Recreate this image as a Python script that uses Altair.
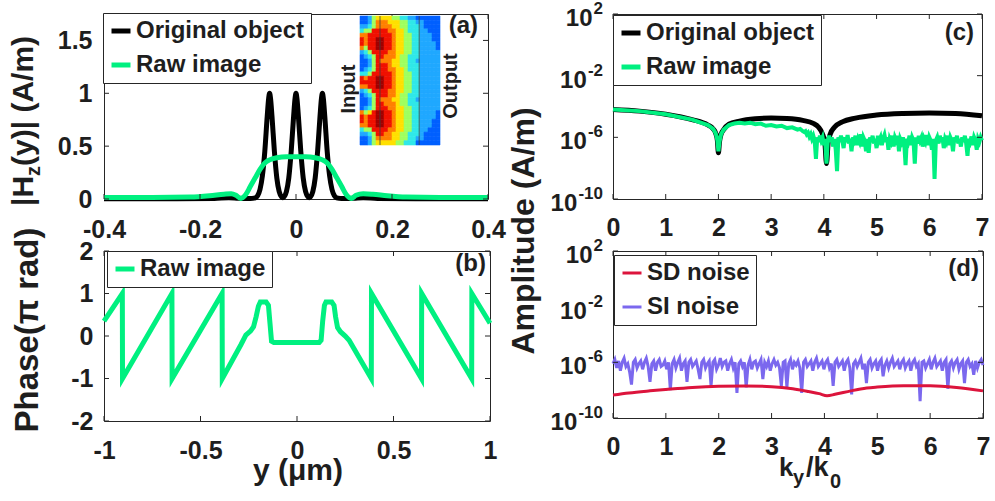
import altair as alt
import pandas as pd

FONT = "Liberation Sans"
TXT = "#1e1e1e"
FRAME = "#262626"
GREEN = "#00F080"
RED = "#DC143C"
BLUE = "#7B68EE"
BLACK = "#000000"

# ---------------- data ----------------
a_series = ["Original object", "Raw image"]
a_black_x = [-0.4, -0.25, -0.17, -0.14, -0.12, -0.1, -0.09, -0.085, -0.08, -0.075,
             -0.07, -0.065, -0.06, -0.057, -0.055, -0.053, -0.05, -0.045, -0.04, -0.035,
             -0.03, -0.0275, -0.025, -0.02, -0.015, -0.01, -0.005, -0.002, 0.0, 0.002,
             0.005, 0.01, 0.015, 0.02, 0.025, 0.0275, 0.03, 0.035, 0.04, 0.045,
             0.05, 0.053, 0.055, 0.057, 0.06, 0.065, 0.07, 0.075, 0.08, 0.085,
             0.09, 0.1, 0.12, 0.14, 0.17, 0.25, 0.4]
a_black_y = [0.003, 0.003, 0.005, 0.012, 0.006, 0.004, 0.006, 0.01, 0.03, 0.09,
             0.22, 0.45, 0.78, 0.95, 1.0, 0.95, 0.78, 0.45, 0.2, 0.07,
             0.02, 0.012, 0.02, 0.07, 0.2, 0.45, 0.78, 0.95, 1.0, 0.95,
             0.78, 0.45, 0.2, 0.07, 0.02, 0.012, 0.02, 0.07, 0.2, 0.45,
             0.78, 0.95, 1.0, 0.95, 0.78, 0.45, 0.22, 0.09, 0.03, 0.01,
             0.006, 0.004, 0.006, 0.012, 0.005, 0.003, 0.003]
a_green_x = [-0.4, -0.3, -0.22, -0.18, -0.15, -0.135, -0.125, -0.115, -0.105, -0.095,
             -0.085, -0.075, -0.065, -0.055, -0.04, -0.02, 0.0, 0.02, 0.04, 0.055,
             0.065, 0.075, 0.085, 0.095, 0.105, 0.115, 0.125, 0.14, 0.16, 0.19,
             0.23, 0.3, 0.4]
a_green_y = [0.015, 0.015, 0.018, 0.03, 0.045, 0.05, 0.035, 0.005, 0.04, 0.12,
             0.2, 0.28, 0.34, 0.37, 0.39, 0.4, 0.4, 0.4, 0.39, 0.37,
             0.34, 0.28, 0.2, 0.12, 0.04, 0.005, 0.035, 0.05, 0.045, 0.03,
             0.018, 0.015, 0.015]
a_xticks = [-0.4, -0.2, 0, 0.2, 0.4]
a_yticks = [0, 0.5, 1, 1.5]

# inset field map (jet levels 0..9), rows top->bottom, columns left->right
inset_rows = [
    "22356666554433222222",
    "22357776665544332222",
    "33457777665544432222",
    "45588887766544433222",
    "77888888766554433322",
    "87889988766554433322",
    "87889988766554433332",
    "75889988766554433332",
    "34588887766554433333",
    "23458877765544433333",
    "22358777665544333333",
    "22358887665544433333",
    "23458887766544433333",
    "44588888766554433333",
    "87889988766554433333",
    "88889988766554433333",
    "77889988766554433333",
    "34588887766554433333",
    "23458887765544433333",
    "22358777665544333333",
    "22358877765544433333",
    "23458887766554433333",
    "75689988766554433332",
    "87889988766554433332",
    "87889988766554433322",
    "77889988766554433322",
    "45588887766554433222",
    "33458877665544432222",
    "22357777665544332222",
    "22356666655444222222",
]
inset_lines_u = [0.25, 0.74]
jet_levels = list("0123456789")
jet_colors = ["#000090", "#0000F0", "#0060FF", "#20A8FF", "#30E8E8",
              "#A0FF60", "#FFE000", "#FF8000", "#F01000", "#A00000"]

b_series = ["Raw image"]
b_x = [-1.0, -0.905, -0.904, -0.648, -0.647, -0.388, -0.387,
       -0.29, -0.265, -0.24, -0.225, -0.212, -0.2, -0.19, -0.16, -0.148, -0.14,
       -0.132, -0.12, 0.115, 0.125, 0.133, 0.142, 0.15, 0.18, 0.192, 0.2,
       0.21, 0.225, 0.25, 0.27, 0.385, 0.386, 0.645, 0.646, 0.905, 0.906, 1.0]
b_y = [0.35, 1.0, -1.0, 1.0, -1.0, 1.0, -1.0,
       -0.2, 0.02, 0.12, 0.22, 0.45, 0.7, 0.8, 0.8, 0.72, 0.3,
       -0.12, -0.15, -0.15, -0.1, 0.35, 0.72, 0.8, 0.8, 0.72, 0.45,
       0.2, 0.1, 0.0, -0.1, -1.0, 1.0, -1.0, 1.0, -1.0, 1.0, 0.3]
b_xticks = [-1, -0.5, 0, 0.5, 1]
b_yticks = [-2, -1, 0, 1, 2]

c_series = ["Original object", "Raw image"]
c_black_x = [0, 0.5, 1.0, 1.5, 1.8, 1.9, 1.95, 1.98, 2.0, 2.02, 2.05, 2.1, 2.2, 2.4,
             2.7, 3.0, 3.3, 3.6, 3.8, 3.9, 3.97, 4.02, 4.05, 4.08, 4.12, 4.2, 4.35,
             4.6, 5.0, 5.5, 6.0, 6.5, 7.0]
c_black_log10 = [-4.2, -4.3, -4.5, -4.85, -5.2, -5.45, -5.75, -6.2, -7.0, -6.3, -5.8, -5.5,
                 -5.15, -4.95, -4.8, -4.75, -4.78, -4.9, -5.1, -5.35, -5.75, -6.4, -7.7,
                 -6.4, -5.8, -5.35, -5.0, -4.75, -4.55, -4.45, -4.42, -4.45, -4.6]
c_green_x_smooth = [0, 0.5, 1.0, 1.5, 1.8, 1.9, 1.95, 1.98, 2.0, 2.02, 2.05, 2.1, 2.2,
                    2.3, 2.4, 2.5, 2.6, 2.7, 2.8, 2.9, 3.0, 3.1, 3.2, 3.3, 3.4, 3.5,
                    3.55, 3.6]
c_green_log10_smooth = [-4.2, -4.3, -4.5, -4.85, -5.2, -5.45, -5.75, -6.2, -6.9, -6.3,
                        -5.8, -5.5, -5.2, -5.1, -5.05, -5.1, -5.05, -5.15, -5.1, -5.25,
                        -5.2, -5.3, -5.25, -5.4, -5.35, -5.5, -5.45, -5.6]
c_green_noise_start, c_green_noise_step = 3.625, 0.025
c_green_log10_noise = [
    -5.65, -5.6, -5.8, -5.7, -5.95, -5.8, -6.1, -5.9, -6.2, -7.4,
    -6.0, -6.3, -5.9, -6.2, -6.0, -6.5, -6.1, -7.7, -6.2, -5.9,
    -6.3, -6.0, -6.6, -6.1, -6.8, -8.2, -6.0, -6.3, -5.9, -6.2,
    -6.7, -6.0, -6.3, -5.85, -6.4, -6.1, -6.9, -6.0, -6.2, -5.9,
    -6.5, -6.1, -6.3, -5.8, -6.6, -6.0, -6.2, -6.9, -6.1, -7.0,
    -6.0, -6.3, -5.9, -6.4, -6.1, -6.7, -5.9, -6.2, -6.0, -6.5,
    -6.1, -5.85, -6.3, -6.0, -6.8, -6.1, -6.3, -5.9, -6.6, -6.0,
    -6.2, -5.9, -6.9, -6.1, -6.3, -6.0, -6.4, -7.8, -6.1, -6.3,
    -5.9, -6.5, -6.0, -6.2, -7.7, -6.0, -6.4, -5.9, -6.2, -6.0,
    -6.6, -6.1, -6.3, -5.85, -6.5, -6.0, -6.2, -6.8, -6.1, -8.7,
    -6.2, -6.0, -6.4, -5.9, -6.3, -6.0, -6.7, -6.1, -6.3, -5.9,
    -6.5, -6.0, -6.2, -6.9, -6.0, -6.3, -5.9, -6.4, -6.1, -6.6,
    -6.0, -6.3, -5.9, -6.4, -7.2, -6.1, -6.3, -5.95, -6.5, -6.0,
    -6.2, -6.8, -6.1, -6.3, -6.0, -6.2]

d_series = ["SD noise", "SI noise"]
d_red_x = [0, 0.3, 0.7, 1.0, 1.5, 2.0, 2.5, 3.0, 3.4, 3.7, 3.9, 4.05, 4.2, 4.5, 4.8,
           5.0, 5.5, 6.0, 6.5, 7.0]
d_red_log10 = [-8.35, -8.2, -8.05, -7.95, -7.8, -7.72, -7.7, -7.75, -7.9, -8.1, -8.25,
               -8.4, -8.3, -8.05, -7.85, -7.78, -7.68, -7.68, -7.8, -8.05]
d_blue_step = 0.035
d_blue_log10 = [
    -6.1, -5.8, -6.4, -5.9, -6.6, -6.0, -5.7, -6.3, -6.1, -6.7,
    -7.6, -6.0, -5.8, -6.4, -6.1, -5.9, -6.5, -6.0, -5.7, -6.3,
    -7.4, -6.1, -5.9, -6.6, -6.0, -5.8, -6.3, -6.2, -5.9, -6.5,
    -6.0, -8.0, -6.1, -5.8, -6.4, -6.0, -5.7, -6.6, -6.1, -5.9,
    -7.4, -6.0, -5.8, -6.3, -6.1, -5.9, -6.5, -7.2, -6.0, -5.8,
    -6.4, -6.1, -5.9, -7.7, -6.0, -5.8, -6.5, -6.2, -5.7, -6.3,
    -6.0, -5.9, -6.6, -6.1, -5.8, -6.4, -6.0, -8.2, -6.1, -5.9,
    -6.3, -6.0, -7.8, -6.2, -5.8, -6.5, -6.0, -5.9, -6.4, -6.1,
    -5.8, -7.2, -6.0, -6.3, -5.9, -6.6, -6.1, -5.8, -6.2, -6.0,
    -6.4, -7.7, -6.0, -5.9, -7.8, -6.1, -5.8, -6.5, -6.0, -6.2,
    -5.9, -6.4, -8.2, -6.0, -5.8, -6.3, -6.1, -5.9, -6.6, -6.0,
    -5.7, -6.3, -6.1, -5.9, -6.5, -6.0, -5.8, -6.4, -6.1, -7.7,
    -6.0, -5.8, -6.3, -6.1, -5.9, -6.6, -6.0, -5.8, -6.4, -8.3,
    -6.1, -5.9, -6.3, -6.0, -5.7, -6.5, -6.1, -7.5, -6.0, -5.8,
    -6.4, -6.1, -5.9, -6.6, -6.0, -5.8, -7.0, -6.2, -5.9, -6.4,
    -6.0, -5.7, -6.3, -6.1, -5.9, -6.5, -6.0, -5.8, -6.4, -6.1,
    -5.9, -6.6, -6.0, -5.8, -6.3, -6.1, -8.8, -6.0, -5.9, -6.4,
    -6.1, -5.8, -6.5, -6.0, -5.7, -6.3, -6.1, -5.9, -6.6, -6.0,
    -5.8, -7.9, -6.1, -5.9, -6.4, -6.0, -5.8, -6.5, -6.1, -5.9,
    -7.5, -6.0, -5.8, -6.3, -6.1, -6.9, -5.9, -6.4, -6.0, -5.8,
    -6.2]
cd_xticks = [0, 1, 2, 3, 4, 5, 6, 7]
log_ticks = [1e2, 1e-2, 1e-6, 1e-10]
log_exps = ["2", "-2", "-6", "-10"]

# ---------------- layout constants ----------------
A_W, A_H = 384, 185
B_W, B_H = 386, 170
C_W, C_H = 369, 185
D_W, D_H = 370, 167

NEG_EXPR = ("datum.value < 0 ? '-' + format(-datum.value, '.1~f') : "
            "format(datum.value, '.1~f')")
INT_EXPR = "format(datum.value, 'd')"


def axis(values, expr, pad):
    return alt.Axis(values=values, labelExpr=expr, ticks=False, domain=False, grid=False,
                    labelPadding=pad, labelFont=FONT, labelFontSize=25,
                    labelFontWeight="bold", labelColor=TXT, title=None,
                    labelFlush=False, labelOverlap=False)


def legend(x, y, sw):
    return alt.Legend(orient="none", legendX=x, legendY=y, title=None,
                      direction="vertical", symbolType="stroke", symbolSize=361,
                      symbolStrokeWidth=sw, labelFont=FONT, labelFontSize=24,
                      labelFontWeight="bold", labelColor=TXT, labelLimit=500,
                      labelOffset=3, strokeColor=FRAME, fillColor="white",
                      padding=6, rowPadding=10, cornerRadius=0)


def txt(text, x, y, size, angle=None, align="left", baseline="alphabetic",
        weight="bold"):
    kw = dict(font=FONT, fontSize=size, fontWeight=weight, color=TXT,
              align=align, baseline=baseline)
    if angle is not None:
        kw["angle"] = angle
    return alt.Chart(pd.DataFrame({"t": [text]})).mark_text(**kw).encode(
        x=alt.value(x), y=alt.value(y), text="t:N")


def ticks(xvals, yvals, xs, ys, xax, yax, W, H, L=5):
    xdf = pd.DataFrame({"t": xvals})
    ydf = pd.DataFrame({"t": yvals})
    X = alt.X("t:Q", scale=xs, axis=xax)
    Y = alt.Y("t:Q", scale=ys, axis=yax)
    r = dict(color=FRAME, strokeWidth=1)
    return [
        alt.Chart(xdf).mark_rule(**r).encode(x=X, y=alt.value(H), y2=alt.value(H - L)),
        alt.Chart(xdf).mark_rule(**r).encode(x=X, y=alt.value(0), y2=alt.value(L)),
        alt.Chart(ydf).mark_rule(**r).encode(y=Y, x=alt.value(0), x2=alt.value(L)),
        alt.Chart(ydf).mark_rule(**r).encode(y=Y, x=alt.value(W), x2=alt.value(W - L)),
    ]


def log_labels(ys, rx=-10):
    df = pd.DataFrame({"v": log_ticks, "e": log_exps, "b": ["10"] * len(log_ticks)})
    df["px"] = [rx - 1 - sum(9.5 if ch.isdigit() else 5.7 for ch in e) for e in log_exps]
    Y = alt.Y("v:Q", scale=ys, axis=None)
    base = alt.Chart(df).mark_text(font=FONT, fontSize=24, fontWeight="bold", color=TXT,
                                   align="right", baseline="alphabetic", dy=12).encode(
        x=alt.X("px:Q", scale=None), y=Y, text="b:N")
    expo = alt.Chart(df).mark_text(font=FONT, fontSize=17, fontWeight="bold", color=TXT,
                                   align="right", baseline="alphabetic", dy=0).encode(
        x=alt.value(rx), y=Y, text="e:N")
    return [base, expo]


# ---------------- panel (a) ----------------
xa = alt.Scale(domain=[-0.4, 0.4], nice=False, zero=False)
ya = alt.Scale(domain=[0, 1.75], nice=False, zero=False)
ax_xa = axis(a_xticks, NEG_EXPR, 18)
ax_ya = axis(a_yticks, NEG_EXPR, 12)
col_a = alt.Color("s:N", scale=alt.Scale(domain=a_series, range=[BLACK, GREEN]),
                  legend=legend(-1, -1, 5))
df_ab = pd.DataFrame({"x": a_black_x, "y": a_black_y, "s": a_series[0]})
df_ag = pd.DataFrame({"x": a_green_x, "y": a_green_y, "s": a_series[1]})
enc_a = dict(x=alt.X("x:Q", scale=xa, axis=ax_xa),
             y=alt.Y("y:Q", scale=ya, axis=ax_ya),
             color=col_a)
la_b = alt.Chart(df_ab).mark_line(strokeWidth=5, interpolate="monotone").encode(**enc_a)
la_g = alt.Chart(df_ag).mark_line(strokeWidth=5, interpolate="monotone").encode(**enc_a)
marker = alt.Chart(pd.DataFrame({"m": [0]})).mark_rect(opacity=0).encode(
    x=alt.value(-103), x2=alt.value(-99), y=alt.value(-17), y2=alt.value(-13))
inner_a = alt.layer(
    la_b, la_g, *ticks(a_xticks, a_yticks, xa, ya, ax_xa, ax_ya, A_W, A_H),
    txt("|H", -71, 192, 30, angle=270),
    txt("z", -64, 162, 20, angle=270),
    txt("(y)| (A/m)", -71, 152, 30, angle=270),
    txt("(a)", A_W - 10, 19, 24, align="right"),
    txt("Input", 245, 75, 20, angle=270, align="center", baseline="middle"),
    txt("Output", 347, 72, 20, angle=270, align="center", baseline="middle"),
    marker,
)
cells = []
for r, row in enumerate(inset_rows):
    for c, ch in enumerate(row):
        cells.append({"u0": c / len(row), "u1": (c + 1) / len(row),
                      "v0": r / len(inset_rows), "v1": (r + 1) / len(inset_rows),
                      "lvl": ch})
inset_df = pd.DataFrame(cells)
ux = alt.Scale(domain=[0, 1], range=[256, 336])
vy = alt.Scale(domain=[0, 1], range=[2, 131])
jet = alt.Scale(domain=jet_levels, range=jet_colors)
inset = alt.Chart(inset_df).mark_rect(strokeWidth=0.6).encode(
    x=alt.X("u0:Q", scale=ux, axis=None), x2="u1",
    y=alt.Y("v0:Q", scale=vy, axis=None), y2="v1",
    color=alt.Color("lvl:N", scale=jet, legend=None),
    stroke=alt.Stroke("lvl:N", scale=jet, legend=None))
inset_lines = alt.Chart(pd.DataFrame({"u": inset_lines_u, "v0": [0, 0], "v1": [1, 1]})).mark_rule(
    color="#404040", strokeWidth=0.8).encode(
    x=alt.X("u:Q", scale=ux, axis=None),
    y=alt.Y("v0:Q", scale=vy, axis=None), y2="v1")
panel_a = alt.layer(inner_a, alt.layer(inset, inset_lines)).resolve_scale(
    x="independent", y="independent", color="independent", stroke="independent"
).properties(width=A_W, height=A_H)

# ---------------- panel (b) ----------------
xb = alt.Scale(domain=[-1, 1], nice=False, zero=False)
yb = alt.Scale(domain=[-2, 2], nice=False, zero=False)
ax_xb = axis(b_xticks, NEG_EXPR, 17)
ax_yb = axis(b_yticks, NEG_EXPR, 11)
df_b = pd.DataFrame({"x": b_x, "y": b_y, "s": b_series[0], "i": range(len(b_x))})
lb = alt.Chart(df_b).mark_line(strokeWidth=5).encode(
    x=alt.X("x:Q", scale=xb, axis=ax_xb),
    y=alt.Y("y:Q", scale=yb, axis=ax_yb),
    color=alt.Color("s:N", scale=alt.Scale(domain=b_series, range=[GREEN]),
                    legend=legend(3, 0, 5)),
    order="i:Q")
panel_b = alt.layer(
    lb, *ticks(b_xticks, b_yticks, xb, yb, ax_xb, ax_yb, B_W, B_H),
    txt("Phase(π rad)", -66, 79, 33, angle=270, align="center"),
    txt("y (μm)", 194, 229, 30, align="center"),
    txt("(b)", B_W - 4, 20, 24, align="right"),
).properties(width=B_W, height=B_H)

# ---------------- panel (c) ----------------
xc = alt.Scale(domain=[0, 7], nice=False, zero=False)
yc = alt.Scale(type="log", domain=[1e-10, 1e2], nice=False)
ax_xc = axis(cd_xticks, INT_EXPR, 16)
c_green_x = c_green_x_smooth + [round(c_green_noise_start + i * c_green_noise_step, 4)
                                for i in range(len(c_green_log10_noise))]
c_green_log10 = c_green_log10_smooth + c_green_log10_noise
df_cb = pd.DataFrame({"x": c_black_x, "amp": [10 ** v for v in c_black_log10],
                      "s": c_series[0]})
df_cg = pd.DataFrame({"x": c_green_x, "amp": [10 ** v for v in c_green_log10],
                      "s": c_series[1]})
col_c = alt.Color("s:N", scale=alt.Scale(domain=c_series, range=[BLACK, GREEN]),
                  legend=legend(0, 1, 5))
enc_c = dict(x=alt.X("x:Q", scale=xc, axis=ax_xc),
             y=alt.Y("amp:Q", scale=yc, axis=None), color=col_c)
lc_b = alt.Chart(df_cb).mark_line(strokeWidth=5, interpolate="monotone").encode(**enc_c)
lc_g = alt.Chart(df_cg).mark_line(strokeWidth=4).encode(**enc_c)
panel_c = alt.layer(
    lc_b, lc_g, *ticks(cd_xticks, log_ticks, xc, yc, ax_xc, None, C_W, C_H),
    *log_labels(yc),
    txt("Amplitude (A/m)", -79, 217, 32, angle=270, align="center"),
    txt("(c)", C_W - 8, 26, 24, align="right"),
).properties(width=C_W, height=C_H)

# ---------------- panel (d) ----------------
xd = alt.Scale(domain=[0, 7], nice=False, zero=False)
yd = alt.Scale(type="log", domain=[1e-10, 1e2], nice=False)
ax_xd = axis(cd_xticks, INT_EXPR, 16)
df_dr = pd.DataFrame({"x": d_red_x, "amp": [10 ** v for v in d_red_log10], "s": d_series[0]})
df_db = pd.DataFrame({"x": [round(i * d_blue_step, 4) for i in range(len(d_blue_log10))],
                      "amp": [10 ** v for v in d_blue_log10], "s": d_series[1]})
col_d = alt.Color("s:N", scale=alt.Scale(domain=d_series, range=[RED, BLUE]),
                  legend=legend(1, 4, 3))
enc_d = dict(x=alt.X("x:Q", scale=xd, axis=ax_xd),
             y=alt.Y("amp:Q", scale=yd, axis=None), color=col_d)
ld_r = alt.Chart(df_dr).mark_line(strokeWidth=3, interpolate="monotone").encode(**enc_d)
ld_b = alt.Chart(df_db).mark_line(strokeWidth=3).encode(**enc_d)
panel_d = alt.layer(
    ld_b, ld_r, *ticks(cd_xticks, log_ticks, xd, yd, ax_xd, None, D_W, D_H),
    *log_labels(yd),
    txt("k", 166, 225, 26),
    txt("y", 180, 233, 20),
    txt("/k", 193, 225, 27),
    txt("0", 217, 237, 20),
    txt("(d)", D_W - 4, 25, 24, align="right"),
).properties(width=D_W, height=D_H)

chart = alt.concat(
    panel_a, panel_c, panel_b, panel_d, columns=2,
    spacing={"row": 52, "column": 123}, bounds="flush"
).resolve_scale(x="independent", y="independent", color="independent").properties(
    padding={"left": 0, "top": -4, "right": 0, "bottom": 0}, background="white"
).configure_view(stroke=FRAME, strokeWidth=1)

chart.save("out.html", embed_options={"renderer": "svg", "actions": False})
